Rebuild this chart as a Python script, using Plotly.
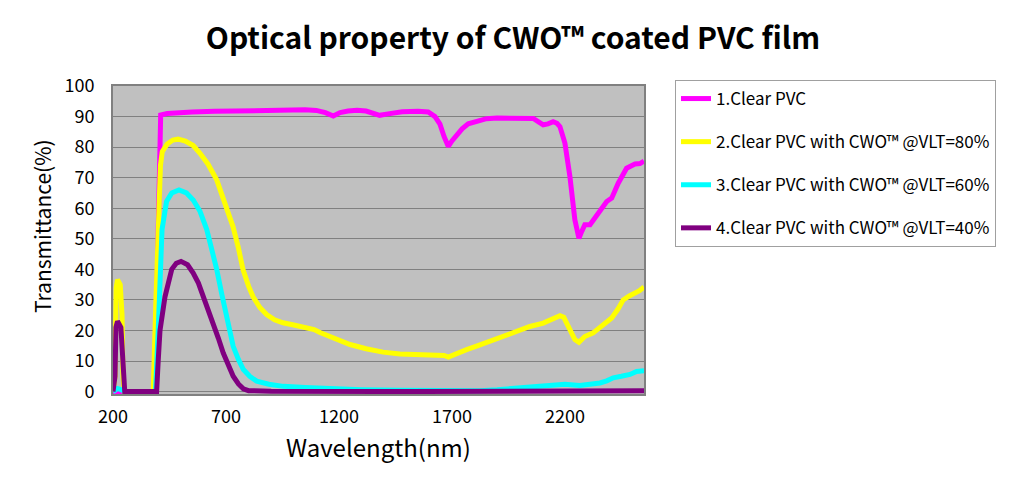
import plotly.graph_objects as go

# ---- data ----
wl_pvc = [200, 250, 300, 350, 385, 395, 403, 411, 440, 480, 550, 650, 750, 850, 950, 1050,
          1100, 1140, 1175, 1205, 1240, 1280, 1320, 1350, 1380, 1410, 1440, 1480, 1550, 1595,
          1625, 1647, 1665, 1684, 1700, 1721, 1745, 1772, 1809, 1853, 1900, 1970, 2020, 2060,
          2085, 2104, 2125, 2148, 2165, 2178, 2200, 2222, 2244, 2262, 2275, 2288, 2311, 2330,
          2355, 2385, 2407, 2436, 2473, 2510, 2532, 2550]
t_pvc = [0, 0, 0, 0, 0, 35, 75, 90.5, 91.0, 91.3, 91.5, 91.7, 91.9, 92.0, 92.1, 92.2,
         92.0, 91.3, 90.2, 91.3, 91.8, 92.1, 91.8, 91.2, 90.4, 90.8, 91.3, 91.6, 91.7, 91.5,
         90.0, 87.5, 83.5, 80.2, 82.0, 84.0, 86.0, 87.6, 88.3, 89.3, 89.5, 89.6, 89.7, 89.4,
         88.2, 87.3, 87.6, 88.3, 87.8, 86.7, 81.3, 70.4, 56.2, 50.2, 52.5, 54.6, 54.6, 56.5,
         59.5, 62.2, 63.3, 68.2, 73.1, 74.5, 74.6, 75.4]

wl_80 = [200, 209, 214, 220, 232, 240, 244, 250, 300, 350, 378, 390, 400, 410, 418, 440,
         465, 488, 520, 555, 585, 620, 659, 695, 731, 755, 775, 800, 820, 850, 880, 915,
         952, 1000, 1057, 1090, 1116, 1180, 1249, 1320, 1395, 1470, 1550, 1647, 1665, 1684,
         1720, 1765, 1815, 1868, 1930, 1986, 2045, 2104, 2145, 2178, 2195, 2207, 2225, 2244,
         2262, 2275, 2288, 2325, 2355, 2385, 2407, 2435, 2458, 2485, 2510, 2530, 2550]
t_80 = [0, 5, 34, 36.6, 35, 25, 5, 0, 0, 0, 0, 30, 60, 74, 78.5, 81.0,
        82.3, 82.6, 82.0, 80.5, 78.0, 74.5, 69.3, 62.0, 54.0, 47.0, 40.0, 34.5, 31.0, 27.5, 25.2, 23.5,
        22.5, 21.8, 20.9, 20.3, 19.3, 17.5, 15.4, 14.0, 12.9, 12.3, 12.1, 12.1, 11.8, 11.3,
        12.5, 13.7, 15.0, 16.4, 18.0, 19.7, 21.3, 22.4, 23.8, 24.8, 24.3, 22.4, 19.5, 17.0,
        16.1, 17.2, 18.0, 19.2, 21.0, 23.3, 24.1, 27.0, 30.0, 31.3, 32.2, 33.0, 34.2]

wl_60 = [200, 210, 220, 240, 250, 300, 350, 388, 400, 410, 417, 437, 460, 492, 525, 555,
         585, 615, 637, 659, 681, 703, 718, 732, 755, 777, 805, 836, 890, 954, 1050, 1175,
         1300, 1470, 1650, 1824, 1900, 2001, 2080, 2148, 2200, 2266, 2310, 2355, 2385, 2414,
         2450, 2488, 2517, 2550]
t_60 = [0, 0.5, 1, 0.5, 0, 0, 0, 0, 20, 40, 53, 62.2, 65.0, 66.0, 65.0, 62.7,
        59.0, 53.0, 47.0, 40.0, 32.0, 24.6, 19.5, 14.8, 10.5, 7.2, 5.0, 3.4, 2.4, 1.7, 1.3, 0.9,
        0.6, 0.4, 0.3, 0.3, 0.6, 1.2, 1.7, 2.3, 2.4, 2.0, 2.2, 2.8, 3.5, 4.5,
        5.0, 5.6, 6.6, 6.8]

wl_40 = [200, 209, 213, 220, 235, 242, 246, 252, 300, 350, 393, 400, 408, 430, 445, 460,
         480, 501, 530, 555, 578, 600, 622, 644, 666, 688, 710, 732, 755, 777, 800, 900,
         1500, 2000, 2300, 2400, 2420, 2440, 2480, 2500, 2520, 2550]
t_40 = [0, 5, 21, 23, 21, 12, 2, 0, 0, 0, 0, 10, 20, 31, 36, 40,
        42.0, 42.6, 41.5, 38.8, 35.5, 31.1, 27.0, 22.4, 17.5, 12.6, 8.5, 5.0, 2.5, 0.9, 0.3, 0.1,
        0, 0, 0.1, 0.3, 0.2, 0.4, 0.3, 0.4, 0.2, 0.3]

series_names = ["1.Clear PVC",
                "2.Clear PVC with CWO™ @VLT=80%",
                "3.Clear PVC with CWO™ @VLT=60%",
                "4.Clear PVC with CWO™ @VLT=40%"]
series_colors = ["#FF00FF", "#FFFF00", "#00FFFF", "#800080"]

x_ticks = [200, 700, 1200, 1700, 2200]
y_ticks = [0, 10, 20, 30, 40, 50, 60, 70, 80, 90, 100]

FONT = "Noto Sans CJK JP"

# figure is placed by the page with an 8px body margin, so size it to fill the window
W, H = 1016, 483
ML, MT, PW, PH = 105, 78, 531, 308

fig = go.Figure()
for i, (xs, ys) in enumerate([(wl_pvc, t_pvc), (wl_80, t_80), (wl_60, t_60), (wl_40, t_40)]):
    fig.add_trace(go.Scatter(
        x=xs, y=ys, mode="lines", name=series_names[i],
        line=dict(color=series_colors[i], width=5),
        legendgroup=str(i),
    ))

fig.update_layout(
    width=W, height=H,
    margin=dict(l=ML, r=W - ML - PW, t=MT, b=H - MT - PH),
    paper_bgcolor="white",
    plot_bgcolor="#C0C0C0",
    font=dict(family=FONT, color="black"),
    title=dict(text="<b>Optical property of CWO™ coated PVC film</b>",
               x=505 / W, xanchor="center", y=1 - 30 / H, yanchor="middle",
               font=dict(family=FONT, size=30, color="black")),
    showlegend=True,
    legend=dict(x=(667 - ML) / PW, xanchor="left", y=1 + 6 / PH, yanchor="top",
                bordercolor="#A0A0A0", borderwidth=1, bgcolor="white",
                font=dict(family=FONT, size=17, color="black"),
                tracegroupgap=18, itemwidth=30),
    annotations=[dict(text="Transmittance(%)", textangle=-90, showarrow=False,
                      xref="paper", yref="paper",
                      x=(34 - ML) / PW, y=(MT + PH - 218) / PH,
                      xanchor="center", yanchor="middle",
                      font=dict(family=FONT, size=21, color="black"))],
)

fig.update_xaxes(
    range=[200, 2550], tickvals=x_ticks, ticktext=[str(v) for v in x_ticks],
    showgrid=False, zeroline=False,
    showline=True, linecolor="#808080", linewidth=2, mirror=True,
    ticks="", ticklabelstandoff=5,
    tickfont=dict(family=FONT, size=18, color="black"),
    title=dict(text="Wavelength(nm)", font=dict(family=FONT, size=24, color="black"),
               standoff=14),
)
fig.update_yaxes(
    range=[-0.8, 100], tickvals=y_ticks, ticktext=[str(v) for v in y_ticks],
    showgrid=True, gridcolor="#808080", gridwidth=1, zeroline=False,
    showline=True, linecolor="#808080", linewidth=2, mirror=True,
    ticks="", ticklabelstandoff=13,
    tickfont=dict(family=FONT, size=18, color="black"),
)

fig.write_html("out.html")
